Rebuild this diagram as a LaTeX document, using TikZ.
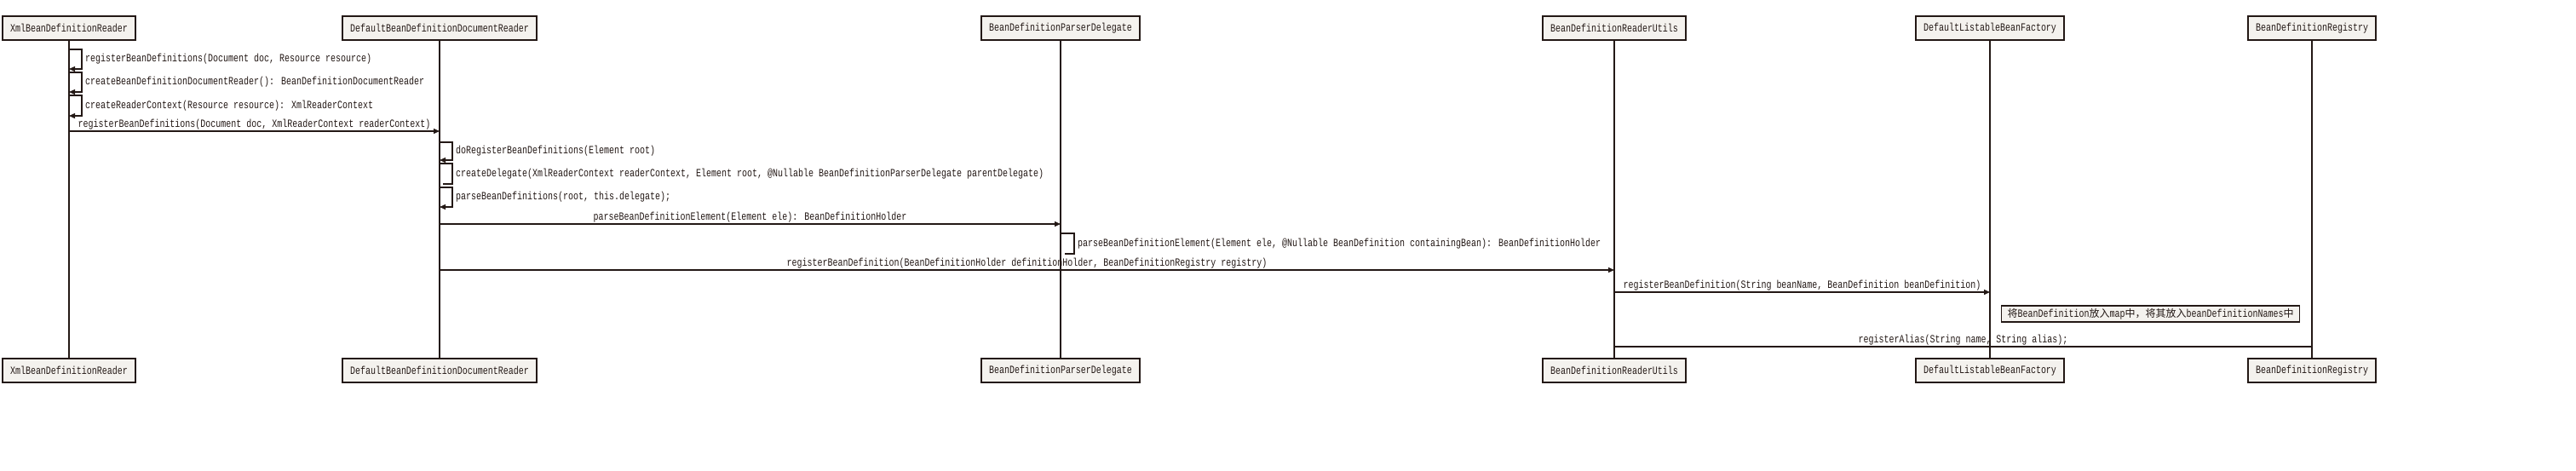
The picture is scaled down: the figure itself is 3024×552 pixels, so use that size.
\documentclass[tikz,border=0pt]{standalone}
\usepackage{fontspec}
\setmainfont[FakeStretch=0.769]{Liberation Mono}
\newfontfamily\cjk{Noto Sans CJK SC}
\usetikzlibrary{arrows.meta,positioning}
\definecolor{seqLine}{HTML}{231815}
\definecolor{seqFill}{HTML}{F4F2EE}

\tikzset{
  actor/.style={draw=seqLine,line width=1.6pt,fill=seqFill,minimum height=28pt,
    inner xsep=9pt,inner ysep=0pt,text=seqLine,font=\fontsize{13}{15}\selectfont},
  life/.style={draw=seqLine,line width=1.2pt},
  msg/.style={draw=seqLine,line width=1.3pt,-{Triangle[length=7pt,width=6pt]}},
  bare/.style={draw=seqLine,line width=1.3pt},
  msglbl/.style={text=seqLine,inner sep=1pt,font=\fontsize{13}{15}\selectfont},
  note/.style={draw=seqLine,line width=1.4pt,fill=seqFill,minimum height=19pt,
    inner xsep=7pt,inner ysep=0pt,text=seqLine,font=\fontsize{13}{15}\selectfont}
}

\begin{document}
\begin{tikzpicture}[x=1pt,y=-1pt]
  \useasboundingbox[fill=white] (0,0) rectangle (3024,552);

  % heads and feet of the lifelines
  \node[actor] (xmlT) at (81,33) {XmlBeanDefinitionReader};
  \node[actor] (dbdrT) at (516,33) {DefaultBeanDefinitionDocumentReader};
  \node[actor] (pdT) at (1245,33) {BeanDefinitionParserDelegate};
  \node[actor] (utilT) at (1895,33) {BeanDefinitionReaderUtils};
  \node[actor] (dlbfT) at (2336,33) {DefaultListableBeanFactory};
  \node[actor] (regT) at (2714,33) {BeanDefinitionRegistry};

  \node[actor] (xmlB) at (81,435) {XmlBeanDefinitionReader};
  \node[actor] (dbdrB) at (516,435) {DefaultBeanDefinitionDocumentReader};
  \node[actor] (pdB) at (1245,435) {BeanDefinitionParserDelegate};
  \node[actor] (utilB) at (1895,435) {BeanDefinitionReaderUtils};
  \node[actor] (dlbfB) at (2336,435) {DefaultListableBeanFactory};
  \node[actor] (regB) at (2714,435) {BeanDefinitionRegistry};

  \draw[life] (xmlT) -- (xmlB);
  \draw[life] (dbdrT) -- (dbdrB);
  \draw[life] (pdT) -- (pdB);
  \draw[life] (utilT) -- (utilB);
  \draw[life] (dlbfT) -- (dlbfB);
  \draw[life] (regT) -- (regB);

  % XmlBeanDefinitionReader
  \draw[msg] (xmlT.south |- 0,58) -- ++(15,0) |- (xmlT.south |- 0,81);
  \node[msglbl,anchor=west] at (99,69.5) {registerBeanDefinitions(Document doc, Resource resource)};
  \draw[msg] (xmlT.south |- 0,85) -- ++(15,0) |- (xmlT.south |- 0,108);
  \node[msglbl,anchor=west] at (99,96.5) {createBeanDefinitionDocumentReader(): BeanDefinitionDocumentReader};
  \draw[msg] (xmlT.south |- 0,112) -- ++(15,0) |- (xmlT.south |- 0,136);
  \node[msglbl,anchor=west] at (99,124) {createReaderContext(Resource resource): XmlReaderContext};
  \draw[msg] (xmlT.south |- 0,154) -- (dbdrT.south |- 0,154)
    node[msglbl,midway,above=0.5pt] {registerBeanDefinitions(Document doc, XmlReaderContext readerContext)};

  % DefaultBeanDefinitionDocumentReader
  \draw[msg] (dbdrT.south |- 0,167) -- ++(15,0) |- (dbdrT.south |- 0,188);
  \node[msglbl,anchor=west] at (534,177.5) {doRegisterBeanDefinitions(Element root)};
  \draw[bare] (dbdrT.south |- 0,192) -- ++(15,0) |- ([xshift=4pt]dbdrT.south |- 0,216);
  \node[msglbl,anchor=west] at (534,204) {createDelegate(XmlReaderContext readerContext, Element root, @Nullable BeanDefinitionParserDelegate parentDelegate)};
  \draw[msg] (dbdrT.south |- 0,220) -- ++(15,0) |- (dbdrT.south |- 0,243);
  \node[msglbl,anchor=west] at (534,231.5) {parseBeanDefinitions(root, this.delegate);};
  \draw[msg] (dbdrT.south |- 0,263) -- (pdT.south |- 0,263)
    node[msglbl,midway,above=0.5pt] {parseBeanDefinitionElement(Element ele): BeanDefinitionHolder};

  % BeanDefinitionParserDelegate
  \draw[bare] (pdT.south |- 0,274) -- ++(16,0) |- ([xshift=5pt]pdT.south |- 0,298);
  \node[msglbl,anchor=west] at (1264,286) {parseBeanDefinitionElement(Element ele, @Nullable BeanDefinition containingBean): BeanDefinitionHolder};
  \draw[msg] (dbdrT.south |- 0,317) -- (utilT.south |- 0,317)
    node[msglbl,midway,above=0.5pt] {registerBeanDefinition(BeanDefinitionHolder definitionHolder, BeanDefinitionRegistry registry)};

  % BeanDefinitionReaderUtils
  \draw[msg] (utilT.south |- 0,343) -- (dlbfT.south |- 0,343)
    node[msglbl,midway,above=0.5pt] {registerBeanDefinition(String beanName, BeanDefinition beanDefinition)};
  \node[note,anchor=west] (mapNote) at (2349,368.5)
    {{\cjk\fontsize{12}{14}\selectfont 将}BeanDefinition{\cjk\fontsize{12}{14}\selectfont 放入}map{\cjk\fontsize{12}{14}\selectfont 中，将其放入}beanDefinitionNames{\cjk\fontsize{12}{14}\selectfont 中}};
  \draw[bare] (utilT.south |- 0,407) -- (regT.south |- 0,407)
    node[msglbl,midway,above=0.5pt] {registerAlias(String name, String alias);};
\end{tikzpicture}
\end{document}
